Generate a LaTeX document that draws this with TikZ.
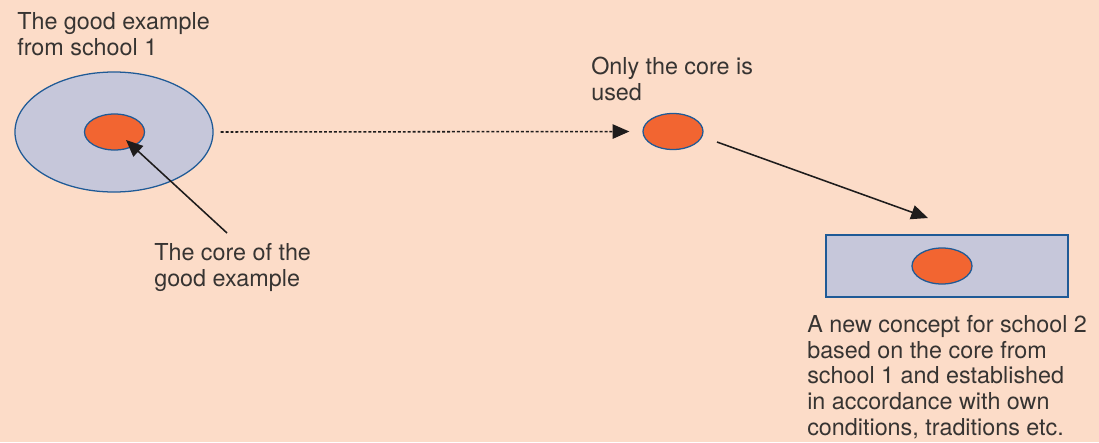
\documentclass[tikz,border=0pt]{standalone}
\usepackage{fontspec}
\setmainfont{TeX Gyre Heros}
\usepackage{xcolor}
\definecolor{Peach}{RGB}{252,220,200}
\definecolor{Lilac}{RGB}{198,199,218}
\definecolor{Orange}{RGB}{242,101,49}
\definecolor{Blue}{RGB}{31,90,150}
\definecolor{Grey}{RGB}{55,52,50}
\definecolor{Ink}{RGB}{30,28,28}
\usetikzlibrary{shapes.geometric,arrows.meta}

\begin{document}
\begin{tikzpicture}[x=0.025cm, y=-0.025cm,
		outer/.style={fill=Lilac, draw=Blue, line width=0.9pt, inner sep=0pt},
		core/.style={ellipse, fill=Orange, draw=Blue, line width=0.9pt, minimum width=1.5cm, minimum height=0.9cm, inner sep=0pt},
		lbl/.style={anchor=north west, align=left, inner sep=0pt, text=Grey, font=\fontsize{16.6}{18.3}\selectfont},
		arr/.style={line width=1.1pt, draw=Ink, -{Triangle[length=0.42cm, width=0.36cm]}}]
		
		% Background
		\fill[Peach] (0,0) rectangle (1099,442);
		\useasboundingbox (0,0) rectangle (1099,442);
		
		% Shapes
		\node[outer, ellipse, minimum width=4.95cm, minimum height=3cm] (good) at (114,132) {};
		\node[core] (core1) at (114.5,132) {};
		\node[core] (core2) at (673,131.5) {};
		\node[outer, rectangle, minimum width=6.05cm, minimum height=1.55cm] (concept) at (947,266) {};
		\node[core] (core3) at (942,266) {};
		
		% Text
		\node[lbl] (goodlbl)    at (17,12)   {The good example\\from school 1};
		\node[lbl] (usedlbl)    at (591,57)  {Only the core is\\used};
		\node[lbl] (corelbl)    at (154,243) {The core of the\\good example};
		\node[lbl] (conceptlbl) at (807,315) {A new concept for school 2\\based on the core from\\school 1 and established\\in accordance with own\\conditions, traditions etc.};
		
		% Arrows
		\coordinate (from1) at (227,233);
		\coordinate (tip1)  at (126,140);
		\coordinate (from2) at (717,142);
		\coordinate (tip2)  at (928,218);
		\draw[arr] (from1) -- (tip1);
		\draw[arr, dash pattern=on 2.1pt off 1.4pt, shorten <=0.175cm, shorten >=0.325cm] (good.east) -- (core2.west);
		\draw[arr] (from2) -- (tip2);
		
\end{tikzpicture}
\end{document}
